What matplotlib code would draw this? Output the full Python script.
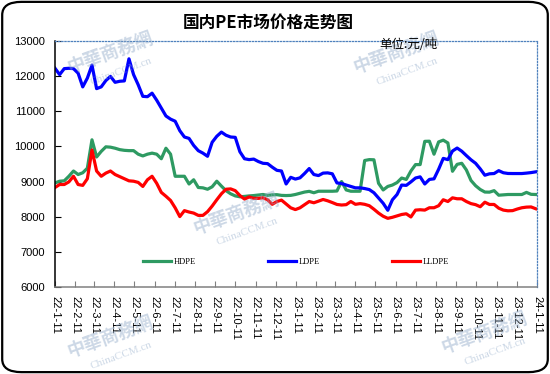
import matplotlib
matplotlib.use("Agg")
import matplotlib.pyplot as plt
from matplotlib.patches import FancyBboxPatch
import numpy as np
import pandas as pd

# weekly prices, yuan/ton, starting 2022-01-11
start_date = "2022-01-11"
hdpe = [
    8960, 9009, 9020, 9150, 9300, 9200, 9250, 9380, 10190, 9700,
    9860, 9990, 9980, 9950, 9910, 9890, 9881, 9881, 9780, 9730,
    9780, 9810, 9780, 9650, 9950, 9780, 9150, 9150, 9150, 8930,
    9050, 8830, 8820, 8780, 8850, 9009, 8870, 8740, 8650, 8590,
    8565, 8575, 8590, 8600, 8615, 8630, 8605, 8620, 8625, 8605,
    8600, 8605, 8630, 8665, 8700, 8720, 8680, 8723, 8723, 8723,
    8723, 8730, 9000, 8760, 8723, 8723, 8723, 9600, 9625, 9620,
    8950, 8760, 8860, 8900, 8970, 9100, 9060, 9300, 9483, 9483,
    10146, 10150, 9780, 10130, 10180, 10100, 9293, 9490, 9520, 9330,
    9030, 8880, 8773, 8700, 8697, 8740, 8610, 8620, 8630, 8630,
    8630, 8630, 8690, 8635, 8630,
]
ldpe = [
    12230, 12050, 12220, 12230, 12220, 12090, 11700, 11950, 12320, 11650,
    11700, 11880, 12000, 11830, 11860, 11870, 12500, 12050, 11760, 11430,
    11420, 11520, 11320, 11095, 10870, 10780, 10720, 10450, 10270, 10230,
    10030, 9880, 9810, 9720, 10120, 10290, 10410, 10320, 10270, 10260,
    9850, 9650, 9625, 9640, 9570, 9520, 9510, 9410, 9320, 9300,
    8930, 9120, 9070, 9105, 9230, 9370, 9200, 9170, 9240, 9247,
    9220, 8960, 8945, 8900, 8860, 8820, 8820, 8800, 8770, 8680,
    8530, 8380, 8180, 8480, 8630, 8900, 8890, 8990, 9100, 9133,
    8930, 9060, 9077, 9350, 9660, 9625, 9870, 9955, 9865, 9740,
    9620, 9520, 9361, 9180, 9220, 9228, 9310, 9250, 9230, 9228,
    9228, 9228, 9240, 9255, 9276,
]
lldpe = [
    8830, 8915, 8915, 8990, 9150, 8915, 8890, 9080, 9900, 9300,
    9150, 9240, 9300, 9200, 9140, 9080, 9020, 9009, 8975, 8860,
    9050, 9150, 8950, 8690, 8580, 8460, 8250, 8000, 8170, 8130,
    8100, 8034, 8034, 8140, 8300, 8480, 8650, 8780, 8790, 8740,
    8600, 8500, 8560, 8520, 8520, 8537, 8480, 8350, 8430, 8470,
    8360, 8250, 8200, 8250, 8340, 8430, 8394, 8440, 8488, 8450,
    8400, 8346, 8330, 8340, 8430, 8350, 8370, 8350, 8310, 8210,
    8100, 8010, 7950, 7980, 8020, 8060, 8080, 7990, 8185, 8195,
    8185, 8252, 8252, 8310, 8480, 8430, 8535, 8508, 8508, 8430,
    8370, 8340, 8281, 8410, 8346, 8346, 8240, 8185, 8165, 8170,
    8215, 8252, 8270, 8275, 8224,
]
series_names = ["HDPE", "LDPE", "LLDPE"]
series_colors = ["#2E9A62", "#0000FF", "#FF0000"]

tick_labels = [
    "22-1-11", "22-2-11", "22-3-11", "22-4-11", "22-5-11", "22-6-11",
    "22-7-11", "22-8-11", "22-9-11", "22-10-11", "22-11-11", "22-12-11",
    "23-1-11", "23-2-11", "23-3-11", "23-4-11", "23-5-11", "23-6-11",
    "23-7-11", "23-8-11", "23-9-11", "23-10-11", "23-11-11", "23-12-11",
    "24-1-11",
]
y_ticks = [6000, 7000, 8000, 9000, 10000, 11000, 12000, 13000]

dates = pd.date_range(start_date, periods=len(hdpe), freq="7D")
tick_dates = [pd.to_datetime("20" + s, format="%Y-%m-%d") for s in tick_labels]

fig = plt.figure(figsize=(5.5, 3.74), dpi=100)
fig.patch.set_facecolor("white")

# rounded outer frame
frame = FancyBboxPatch((0.004, 0.005), 0.992, 0.99, boxstyle="round,pad=0,rounding_size=0.035",
                       transform=fig.transFigure, facecolor="none", edgecolor="black", linewidth=1.6)
fig.patches.append(frame)

ax = fig.add_axes([0.1, 0.2334, 0.8764, 0.6562])

# faint watermarks
wm_color = "#8FA9C8"
for wx, wy in [(0.2, 0.86), (0.72, 0.86), (0.43, 0.43), (0.88, 0.11), (0.2, 0.1)]:
    fig.text(wx, wy, "中華商務網", fontsize=13, color=wm_color, alpha=0.45, rotation=20,
             ha="center", va="center", family=["Noto Sans CJK TC", "DejaVu Sans"], fontweight="bold")
    fig.text(wx + 0.02, wy - 0.05, "ChinaCCM.cn", fontsize=8, color=wm_color, alpha=0.45, rotation=20,
             ha="center", va="center", family="Liberation Serif")

for values, name, color in zip([hdpe, ldpe, lldpe], series_names, series_colors):
    ax.plot(dates, values, color=color, linewidth=2.3, label=name, solid_joinstyle="round")

ax.set_xlim(tick_dates[0], tick_dates[-1])
ax.set_ylim(6000, 13000)
ax.set_yticks(y_ticks)
ax.set_yticklabels([str(v) for v in y_ticks], family="Liberation Sans", fontsize=8)
ax.set_xticks(tick_dates)
ax.set_xticklabels(tick_labels, rotation=-90, family="Liberation Sans", fontsize=8, va="top", ha="center")
ax.tick_params(axis="x", direction="in", length=4, color="#808080", pad=7)
ax.tick_params(axis="y", direction="in", length=4, color="black", pad=7)

ax.spines["left"].set_color("black")
ax.spines["left"].set_linewidth(1.1)
ax.spines["bottom"].set_color("#808080")
ax.spines["bottom"].set_linewidth(1.1)
for side in ["top", "right"]:
    ax.spines[side].set_color("#4F81BD")
    ax.spines[side].set_linestyle((0, (1, 1.5)))
    ax.spines[side].set_linewidth(0.9)
ax.set_facecolor("none")

leg = ax.legend(loc="center", bbox_to_anchor=(0.5, 0.102), ncol=3, frameon=False,
                prop={"family": "Liberation Serif", "size": 6}, handlelength=3.4,
                handletextpad=0.3, columnspacing=8.6)

fig.text(0.487, 0.938, "国内PE市场价格走势图", fontsize=12, fontweight="bold", ha="center", va="center",
         family=["Noto Sans CJK SC", "DejaVu Sans"])
fig.text(0.742, 0.882, "单位:元/吨", fontsize=9, ha="center", va="center",
         family=["Noto Sans CJK SC", "DejaVu Sans"])

fig.savefig("out.png", dpi=100)
